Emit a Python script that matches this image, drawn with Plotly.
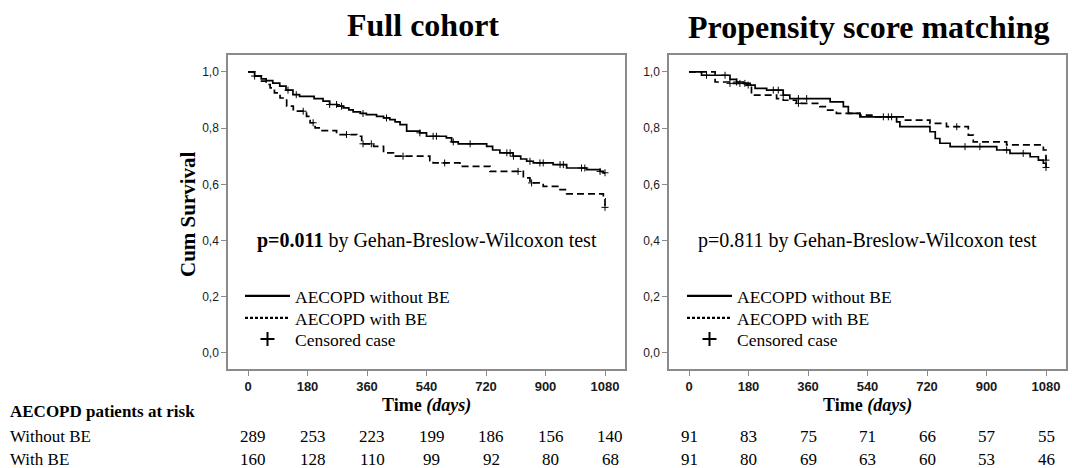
import numpy as np
import plotly.graph_objects as go

# ---------------- data ----------------
days_ticks = [0, 180, 360, 540, 720, 900, 1080]
y_ticks = [0.0, 0.2, 0.4, 0.6, 0.8, 1.0]
y_tick_labels = ["0,0", "0,2", "0,4", "0,6", "0,8", "1,0"]

# Full cohort - without BE (step times, survival after step)
full_wo_t = [0, 20, 40, 55, 75, 96, 115, 136, 156, 200, 227, 247, 270, 288, 305, 318, 340, 358,
             389, 410, 429, 445, 460, 480, 520, 540, 600, 616, 636, 722, 740, 762, 802, 825, 843,
             863, 923, 964, 1024, 1065, 1075]
full_wo_s = [1.0, 0.985, 0.975, 0.969, 0.960, 0.949, 0.935, 0.919, 0.913, 0.905, 0.896, 0.884,
             0.878, 0.872, 0.865, 0.858, 0.852, 0.848, 0.842, 0.836, 0.830, 0.822, 0.812, 0.789,
             0.783, 0.771, 0.765, 0.751, 0.744, 0.735, 0.722, 0.712, 0.700, 0.690, 0.682, 0.676,
             0.670, 0.658, 0.652, 0.646, 0.641]
full_wo_cens = [20, 121, 146, 247, 268, 283, 348, 419, 520, 560, 570, 621, 672, 783, 793, 803,
                853, 883, 893, 944, 954, 1009, 1019, 1065, 1080]

# Full cohort - with BE
full_w_t = [0, 20, 41, 55, 67, 80, 97, 117, 137, 177, 188, 203, 218, 268, 329, 344, 380, 410,
            440, 550, 560, 641, 732, 833, 853, 893, 944, 964, 1075, 1080]
full_w_s = [1.0, 0.985, 0.967, 0.955, 0.943, 0.925, 0.907, 0.878, 0.860, 0.842, 0.819, 0.801,
            0.791, 0.777, 0.771, 0.744, 0.735, 0.712, 0.700, 0.684, 0.676, 0.664, 0.646, 0.623,
            0.605, 0.593, 0.581, 0.566, 0.548, 0.518]
full_w_cens = [167, 197, 298, 348, 373, 469, 595, 817, 858, 1080]

# PSM - without BE
psm_wo_t = [0, 38, 124, 144, 164, 185, 200, 235, 285, 305, 427, 467, 482, 517, 628, 638, 729,
            745, 759, 790, 931, 971, 1032, 1057, 1072, 1080]
psm_wo_s = [1.0, 0.988, 0.973, 0.964, 0.959, 0.953, 0.941, 0.935, 0.917, 0.905, 0.893, 0.876,
            0.852, 0.840, 0.822, 0.805, 0.787, 0.763, 0.746, 0.734, 0.722, 0.710, 0.698, 0.686,
            0.675, 0.660]
psm_wo_cens = [53, 109, 144, 169, 255, 270, 285, 331, 356, 603, 613, 835, 880, 961, 1011, 1080]

# PSM - with BE
psm_w_t = [0, 79, 124, 174, 189, 265, 285, 325, 396, 416, 446, 517, 557, 648, 729, 779, 845,
           860, 961, 1072, 1080]
psm_w_s = [1.0, 0.964, 0.959, 0.953, 0.917, 0.905, 0.899, 0.888, 0.876, 0.864, 0.852, 0.846,
           0.840, 0.828, 0.817, 0.805, 0.775, 0.751, 0.740, 0.722, 0.686]
psm_w_cens = [124, 154, 179, 331, 588, 810, 1080]

# risk table
risk_full_wo = [289, 253, 223, 199, 186, 156, 140]
risk_full_w = [160, 128, 110, 99, 92, 80, 68]
risk_psm_wo = [91, 83, 75, 71, 66, 57, 55]
risk_psm_w = [91, 80, 69, 63, 60, 53, 46]

legend_names = ["AECOPD without BE", "AECOPD with BE", "Censored case"]

# ---------------- helpers ----------------
SERIF = "Times New Roman, Liberation Serif, Times, serif"
SANS = "Arial, Liberation Sans, sans-serif"
W, H = 1072, 468


def px_x(p):
    return p / W


def px_y(p):
    return (H - p) / H


def surv_at(t_arr, s_arr, times):
    t_arr = np.asarray(t_arr, float)
    s_arr = np.asarray(s_arr, float)
    idx = np.searchsorted(t_arr, np.asarray(times, float), side="right") - 1
    return s_arr[np.clip(idx, 0, len(s_arr) - 1)]


def extend(t, s, end=1080):
    t = list(t)
    s = list(s)
    if t[-1] < end:
        t.append(end)
        s.append(s[-1])
    return t, s


fig = go.Figure()

DASH_PLOT = "7px,4px"
DASH_LEG = "3px,2px"
LW = 1.7


def add_panel(xa, ya, legs, wo_t, wo_s, wo_c, w_t, w_s, w_c):
    t1, s1 = extend(wo_t, wo_s)
    t2, s2 = extend(w_t, w_s)
    fig.add_trace(go.Scatter(x=t1, y=s1, mode="lines", line=dict(color="black", width=LW, shape="hv"),
                             xaxis=xa, yaxis=ya, showlegend=False, hoverinfo="skip"))
    fig.add_trace(go.Scatter(x=t2, y=s2, mode="lines",
                             line=dict(color="black", width=LW, shape="hv", dash=DASH_PLOT),
                             xaxis=xa, yaxis=ya, showlegend=False, hoverinfo="skip"))
    mk = dict(symbol="cross-thin", size=5, color="black", line=dict(width=1, color="black"))
    fig.add_trace(go.Scatter(x=wo_c, y=surv_at(t1, s1, wo_c), mode="markers", marker=mk,
                             xaxis=xa, yaxis=ya, showlegend=False, hoverinfo="skip"))
    fig.add_trace(go.Scatter(x=w_c, y=surv_at(t2, s2, w_c), mode="markers", marker=mk,
                             xaxis=xa, yaxis=ya, showlegend=False, hoverinfo="skip"))
    # legend-only entries (one legend per entry for exact row spacing)
    fig.add_trace(go.Scatter(x=[None], y=[None], mode="lines", name=legend_names[0],
                             line=dict(color="black", width=2.2), xaxis=xa, yaxis=ya, legend=legs[0]))
    fig.add_trace(go.Scatter(x=[None], y=[None], mode="lines", name=legend_names[1],
                             line=dict(color="black", width=2.2, dash=DASH_LEG), xaxis=xa, yaxis=ya,
                             legend=legs[1]))
    fig.add_trace(go.Scatter(x=[None], y=[None], mode="markers", name=legend_names[2],
                             marker=dict(symbol="cross-thin", size=10, color="black",
                                         line=dict(width=2, color="black")),
                             xaxis=xa, yaxis=ya, legend=legs[2]))


add_panel("x", "y", ["legend", "legend2", "legend3"], full_wo_t, full_wo_s, full_wo_cens,
          full_w_t, full_w_s, full_w_cens)
add_panel("x2", "y2", ["legend4", "legend5", "legend6"], psm_wo_t, psm_wo_s, psm_wo_cens,
          psm_w_t, psm_w_s, psm_w_cens)

FRAME = "#8a8a8a"
xcommon = dict(range=[-60.5, 1140.5], tickvals=days_ticks, ticks="outside", ticklen=5,
               tickcolor=FRAME, showline=True, linecolor=FRAME, linewidth=1.5, mirror=True,
               showgrid=False, zeroline=False,
               tickfont=dict(family=SANS, size=13, color="#1a1a1a", weight="bold"))
ycommon = dict(range=[-0.057, 1.06], tickvals=y_ticks, ticktext=y_tick_labels, ticks="outside",
               ticklen=5, tickcolor=FRAME, showline=True, linecolor=FRAME, linewidth=1.5,
               mirror=True, showgrid=False, zeroline=False,
               tickfont=dict(family=SANS, size=12, color="#1a1a1a"))

legcommon = dict(xanchor="left", yanchor="middle", bgcolor="rgba(0,0,0,0)",
                 font=dict(family=SERIF, size=17.5, color="black"), itemwidth=45,
                 tracegroupgap=0, traceorder="normal")

row_y = [296, 318, 339]
layout_legends = {}
for i, (name, xpx) in enumerate([("legend", 240), ("legend2", 240), ("legend3", 240),
                                  ("legend4", 682), ("legend5", 682), ("legend6", 682)]):
    layout_legends[name] = dict(x=px_x(xpx), y=px_y(row_y[i % 3]), **legcommon)

fig.update_layout(
    width=W, height=H, margin=dict(l=0, r=0, t=0, b=0),
    paper_bgcolor="white", plot_bgcolor="white",
    xaxis=dict(domain=[px_x(228), px_x(625)], anchor="y", **xcommon),
    yaxis=dict(domain=[px_y(369), px_y(55)], anchor="x", **ycommon),
    xaxis2=dict(domain=[px_x(669), px_x(1066)], anchor="y2", **xcommon),
    yaxis2=dict(domain=[px_y(369), px_y(55)], anchor="x2", **ycommon),
    **layout_legends,
)

ann = []
# titles
ann.append(dict(text="<b>Full cohort</b>", x=px_x(423), y=px_y(25), xref="paper", yref="paper",
                showarrow=False, font=dict(family=SERIF, size=32, color="black"),
                xanchor="center", yanchor="middle"))
ann.append(dict(text="<b>Propensity score matching</b>", x=px_x(868), y=px_y(27), xref="paper",
                yref="paper", showarrow=False, font=dict(family=SERIF, size=32, color="black"),
                xanchor="center", yanchor="middle"))
# y title
ann.append(dict(text="<b>Cum Survival</b>", x=px_x(188), y=px_y(214), xref="paper", yref="paper",
                showarrow=False, textangle=-90, font=dict(family=SERIF, size=21, color="black"),
                xanchor="center", yanchor="middle"))
# x titles
for xr in ["x", "x2"]:
    ann.append(dict(text="<b>Time <i>(days)</i></b>", x=540, y=px_y(405), xref=xr, yref="paper",
                    showarrow=False, font=dict(family=SERIF, size=18, color="black"),
                    xanchor="center", yanchor="middle"))
# p-values
ann.append(dict(text="<b>p=0.011</b> by Gehan-Breslow-Wilcoxon test", x=540, y=0.4, xref="x",
                yref="y", showarrow=False, font=dict(family=SERIF, size=20, color="black"),
                xanchor="center", yanchor="middle"))
ann.append(dict(text="p=0.811 by Gehan-Breslow-Wilcoxon test", x=540, y=0.4, xref="x2",
                yref="y2", showarrow=False, font=dict(family=SERIF, size=20, color="black"),
                xanchor="center", yanchor="middle"))
# risk table labels
RISK_Y = [411, 436, 459]
ann.append(dict(text="<b>AECOPD patients at risk</b>", x=px_x(8), y=px_y(RISK_Y[0]), xref="paper",
                yref="paper", showarrow=False, font=dict(family=SERIF, size=17, color="black"),
                xanchor="left", yanchor="middle"))
ann.append(dict(text="Without BE", x=px_x(8), y=px_y(RISK_Y[1]), xref="paper", yref="paper",
                showarrow=False, font=dict(family=SERIF, size=17, color="black"),
                xanchor="left", yanchor="middle"))
ann.append(dict(text="With BE", x=px_x(8), y=px_y(RISK_Y[2]), xref="paper", yref="paper",
                showarrow=False, font=dict(family=SERIF, size=17, color="black"),
                xanchor="left", yanchor="middle"))
for xr, shift, row1, row2 in [("x", 5, risk_full_wo, risk_full_w), ("x2", 0, risk_psm_wo, risk_psm_w)]:
    for d, a, b in zip(days_ticks, row1, row2):
        ann.append(dict(text=str(a), x=d, y=px_y(RISK_Y[1]), xref=xr, yref="paper", showarrow=False,
                        xshift=shift, font=dict(family=SERIF, size=17, color="black"),
                        xanchor="center", yanchor="middle"))
        ann.append(dict(text=str(b), x=d, y=px_y(RISK_Y[2]), xref=xr, yref="paper", showarrow=False,
                        xshift=shift, font=dict(family=SERIF, size=17, color="black"),
                        xanchor="center", yanchor="middle"))

fig.update_layout(annotations=ann)
fig.write_html("out.html")
